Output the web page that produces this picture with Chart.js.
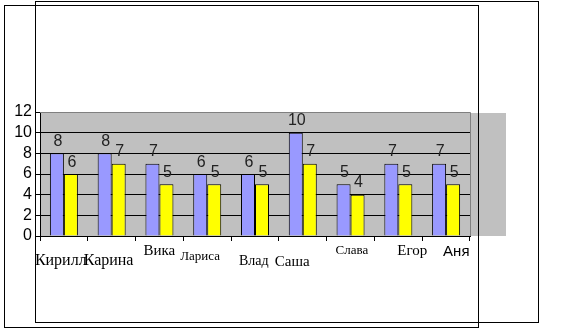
<!DOCTYPE html>
<html>
<head>
<meta charset="utf-8">
<script src="https://cdn.jsdelivr.net/npm/chart.js@4/dist/chart.umd.min.js"></script>
<style>
  html, body { margin: 0; padding: 0; background: #fff; }
  canvas { display: block; }
</style>
</head>
<body>
<canvas id="chart" width="564" height="333"></canvas>
<script>
const names = ['Кирилл', 'Карина', 'Вика', 'Лариса', 'Влад', 'Саша', 'Слава', 'Егор', 'Аня'];
const seriesA = [8, 8, 7, 6, 6, 10, 5, 7, 7];
const seriesB = [6, 7, 5, 5, 5, 7, 4, 5, 5];
const yTicks = [0, 2, 4, 6, 8, 10, 12];

// hand-placed category captions: offset from category centre, baseline, size, family
const captionDx = [-29, -28, -16, -27, -16, -28, -15, -1, -3];
const captionBase = [265, 265, 255, 260, 265, 266, 254, 255, 256];
const captionSize = [16, 16, 15, 13, 14, 15, 13, 15, 15];
const captionFont = ['Liberation Serif', 'Liberation Serif', 'Liberation Serif', 'Liberation Serif',
  'Liberation Serif', 'Liberation Serif', 'Liberation Serif', 'Liberation Serif', 'Liberation Sans'];

const COLORS = {
  plot: '#c0c0c0',
  plotBorder: '#808080',
  blue: '#9999ff',
  yellow: '#ffff00',
  label: '#222222',
};

const plotBackground = {
  id: 'plotBackground',
  beforeDraw(chart) {
    const { ctx, chartArea: a } = chart;
    ctx.save();
    ctx.fillStyle = COLORS.plot;
    ctx.fillRect(a.left, a.top, a.right - a.left, a.bottom - a.top);
    // shaded strip to the right of the plot
    ctx.fillRect(a.right, a.top + 1, 36, a.bottom - a.top - 1);
    ctx.restore();
  },
  afterDatasetsDraw(chart) {
    const { ctx, chartArea: a } = chart;
    ctx.save();
    // grey top and right edges of the plot
    ctx.strokeStyle = COLORS.plotBorder;
    ctx.lineWidth = 1;
    ctx.beginPath();
    ctx.moveTo(a.left, a.top + 0.5);
    ctx.lineTo(a.right + 0.5, a.top + 0.5);
    ctx.lineTo(a.right + 0.5, a.bottom);
    ctx.stroke();

    // value labels over each bar
    ctx.fillStyle = COLORS.label;
    ctx.font = '16px "Liberation Sans", Arial, sans-serif';
    ctx.textAlign = 'center';
    ctx.textBaseline = 'alphabetic';
    chart.data.datasets.forEach((ds, di) => {
      chart.getDatasetMeta(di).data.forEach((bar, i) => {
        ctx.fillText(String(ds.data[i]), bar.x + 1, bar.y - 7.5);
      });
    });

    // category captions under the axis
    const xs = chart.scales.x;
    ctx.fillStyle = '#000';
    ctx.textAlign = 'left';
    names.forEach((name, i) => {
      ctx.font = captionSize[i] + 'px "' + captionFont[i] + '"';
      ctx.fillText(name, xs.getPixelForValue(i) + captionDx[i], captionBase[i]);
    });
    ctx.restore();
  },
  afterDraw(chart) {
    const { ctx } = chart;
    ctx.save();
    ctx.strokeStyle = '#000';
    ctx.lineWidth = 1;
    ctx.strokeRect(4.5, 5.5, 474, 322);
    ctx.strokeRect(35.5, 1.5, 503, 321);
    ctx.restore();
  },
};

new Chart(document.getElementById('chart'), {
  type: 'bar',
  data: {
    labels: names,
    datasets: [
      {
        data: seriesA,
        backgroundColor: COLORS.blue,
        borderColor: '#000',
        borderWidth: 1,
      },
      {
        data: seriesB,
        backgroundColor: COLORS.yellow,
        borderColor: '#000',
        borderWidth: 1,
      },
    ],
  },
  options: {
    responsive: false,
    animation: false,
    categoryPercentage: 0.586,
    barPercentage: 1,
    layout: { padding: { top: 112, right: 94, bottom: 77, left: 0 } },
    plugins: {
      legend: { display: false },
      tooltip: { enabled: false },
    },
    scales: {
      x: {
        grid: {
          offset: true,
          drawOnChartArea: false,
          drawTicks: true,
          tickLength: 5,
          color: '#000',
        },
        border: { color: '#000', width: 1 },
        ticks: { display: false },
        afterFit(scale) { scale.height = 20; },
      },
      y: {
        min: 0,
        max: 12,
        afterBuildTicks(scale) { scale.ticks = yTicks.map((v) => ({ value: v })); },
        grid: {
          color: (c) => (c.tick && c.tick.value === 12 ? COLORS.plotBorder : '#000'),
          tickColor: '#000',
          tickLength: 5,
        },
        border: { color: '#000', width: 1 },
        ticks: {
          autoSkip: false,
          color: '#000',
          padding: 3,
          font: { family: '"Liberation Sans", Arial, sans-serif', size: 16 },
        },
        afterFit(scale) { scale.width = 40; },
      },
    },
  },
  plugins: [plotBackground],
});
</script>
</body>
</html>
